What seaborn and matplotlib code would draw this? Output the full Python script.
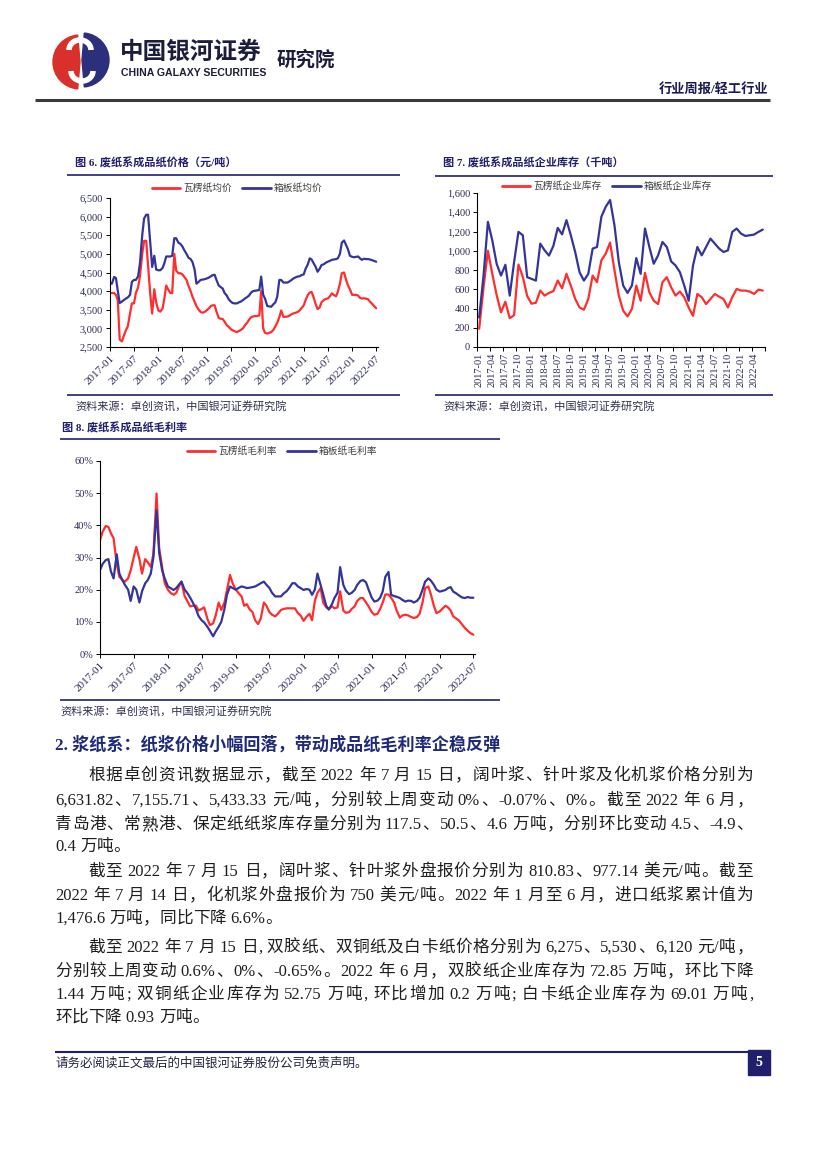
import re
import numpy as np
import pandas as pd
import matplotlib
matplotlib.use('Agg')
import matplotlib.pyplot as plt
import matplotlib.font_manager as fm
from matplotlib.lines import Line2D
from matplotlib.patches import Rectangle, Wedge, Arc
from matplotlib.ticker import FuncFormatter
import seaborn as sns

# 半月频日期（图6、图8共用）
half_month = pd.date_range('2017-01-01', '2022-07-01', freq='SMS')

# 图6 废纸系成品纸价格（元/吨）
corrugated_price = [
    3950, 3950, 3950, 3900, 3750, 2700, 2650, 2800, 2950, 3050,
    3400, 3670, 3670, 3950, 4100, 4400, 5000, 5350, 5350, 4700,
    3900, 3400, 4050, 3700, 3480, 3450, 3530, 3800, 4150, 4050,
    3950, 3950, 5000, 4550, 4480, 4480, 4450, 4380, 4300, 4150,
    4000, 3850, 3720, 3600, 3500, 3440, 3420, 3440, 3490, 3530,
    3600, 3620, 3620, 3450, 3280, 3260, 3250, 3180, 3080, 3040,
    2980, 2950, 2920, 2900, 2930, 2960, 3000, 3080, 3150, 3230,
    3300, 3320, 3330, 3330, 3350, 4000, 3000, 2880, 2860, 2880,
    2900, 2950, 3050, 3150, 3300, 3480, 3310, 3310, 3320, 3340,
    3380, 3400, 3420, 3440, 3480, 3540, 3620, 3760, 3900, 3960,
    3980, 3850, 3650, 3520, 3560, 3700, 3760, 3790, 3800, 3850,
    3940, 3900, 3860, 3980, 4200, 4480, 4500, 4320, 4150, 4050,
    3900, 3900, 3900, 3880, 3820, 3800, 3810, 3800, 3780, 3720,
    3660, 3600, 3540]
boxboard_price = [
    4200, 4200, 4380, 4350, 4000, 3680, 3720, 3760, 3800, 3830,
    3900, 4250, 4300, 4300, 4400, 4750, 5500, 5950, 6050, 6050,
    5300, 4650, 4950, 4580, 4560, 4560, 4620, 4750, 4930, 4930,
    4930, 4950, 5420, 5420, 5300, 5270, 5200, 5100, 5000, 4900,
    4860, 4780, 4580, 4200, 4250, 4300, 4310, 4320, 4340, 4360,
    4400, 4430, 4440, 4300, 4150, 4110, 4070, 3950, 3880, 3780,
    3720, 3680, 3670, 3670, 3700, 3720, 3760, 3800, 3840, 3880,
    3960, 4000, 4010, 4020, 4030, 4390, 3900, 3800, 3600, 3590,
    3580, 3640, 3700, 3850, 4300, 4300, 4230, 4230, 4230, 4260,
    4300, 4340, 4370, 4390, 4400, 4430, 4450, 4600, 4720, 4880,
    4850, 4760, 4650, 4520, 4600, 4700, 4720, 4760, 4790, 4810,
    4840, 4850, 4860, 4880, 5000, 5300, 5360, 5250, 5120, 4950,
    4920, 4910, 4920, 4930, 4880, 4840, 4870, 4860, 4860, 4850,
    4830, 4810, 4790]

# 图7 废纸系成品纸企业库存（千吨），月度
stock_month = pd.date_range('2017-01-01', periods=66, freq='MS')
corrugated_stock = [
    190, 620, 1000, 760, 540, 360, 470, 300, 330, 857,
    730, 530, 450, 460, 586, 534, 562, 580, 690, 610,
    760, 638, 500, 411, 387, 498, 742, 673, 900, 970,
    1085, 800, 534, 377, 318, 394, 638, 481, 770, 568,
    481, 446, 673, 725, 620, 534, 576, 517, 411, 324,
    551, 517, 446, 498, 551, 523, 498, 411, 517, 603,
    586, 586, 576, 551, 596, 586]
boxboard_stock = [
    307, 742, 1300, 1109, 865, 742, 854, 534, 882, 1196,
    1161, 725, 708, 690, 1074, 1004, 950, 1050, 1237, 1170,
    1318, 1161, 987, 777, 690, 760, 1022, 1039, 1353, 1457,
    1527, 1266, 882, 638, 562, 638, 924, 760, 1231, 1039,
    865, 952, 1091, 1039, 889, 847, 777, 638, 481, 847,
    1039, 952, 1039, 1126, 1074, 1022, 987, 1004, 1196, 1231,
    1178, 1154, 1161, 1168, 1196, 1220]

# 图8 废纸系成品纸毛利率（%）
corrugated_margin = [
    35.4, 38, 39.8, 39.5, 37.5, 36, 28, 24, 23, 22.5,
    23.5, 26, 30, 33.3, 29.5, 25, 29.5, 28.5, 27.1, 31,
    49.9, 33, 27, 22, 20, 19, 18.4, 19, 21, 22.5,
    18, 16.5, 14.8, 15, 15, 13.5, 14, 14.5, 11, 9,
    9.5, 12, 16, 13.7, 16, 20, 24.6, 22, 20, 19,
    17.9, 15, 15.5, 14, 13, 10.5, 9.3, 11, 16, 15,
    13, 12.2, 11.7, 12.5, 13.7, 14, 14.2, 14.2, 14.2, 14.2,
    12.7, 12, 10.3, 11.5, 12.5, 10.5, 16.5, 19, 20.5, 16,
    14.5, 14, 14.8, 14.2, 14.5, 19.5, 13.5, 12.8, 13, 14,
    14.8, 16.5, 17.4, 17.4, 16, 14.8, 13, 12.2, 12.5, 14,
    16, 18.5, 18.5, 17.5, 16, 13.5, 11.3, 12, 12.2, 12,
    11.5, 11.2, 11.5, 12.5, 16, 20.5, 21, 18.5, 15, 12.7,
    13.2, 14, 15, 14.5, 13.5, 11.7, 11, 10.4, 9.2, 8.2,
    7.2, 6.5, 6]
boxboard_margin = [
    26.1, 28, 29.2, 29.5, 25.6, 23.5, 31, 25, 23, 21.5,
    20, 16.5, 21, 20, 16, 19.5, 22, 23, 25, 30,
    44.7, 31.5, 26, 23.5, 21, 20.5, 19.9, 20.5, 21.5, 22.5,
    20, 19, 17.5, 16, 14, 11.8, 10.5, 9.8, 8.5, 7.2,
    5.5, 7, 8.5, 10, 14, 18.5, 21, 20.5, 20, 20.5,
    21, 20.8, 20.5, 20.6, 20.8, 21, 21.5, 22, 22.5, 21.5,
    20.5, 19, 17.9, 17.9, 17.9, 18.8, 19.5, 20.5, 22, 22,
    21, 20.5, 19.9, 20.2, 20, 18.4, 20, 25, 21.5, 18.5,
    15, 13.8, 15.5, 17.5, 19, 27, 21.5, 19.7, 18.6, 19,
    19.9, 21.5, 22.7, 23, 22.3, 20, 17.5, 16.3, 16.6, 17.5,
    19.5, 24, 25.5, 18.4, 18, 17.8, 17.4, 16.8, 16.3, 16.6,
    16.5, 16, 16.5, 17.5, 20, 22.5, 23.5, 22.8, 21.5, 20,
    19.4, 19.6, 19.9, 20.5, 20.8, 19.4, 18.8, 18.2, 17.6, 17.4,
    17.7, 17.5, 17.5]

price_names = ['瓦楞纸均价', '箱板纸均价']
stock_names = ['瓦楞纸企业库存', '箱板纸企业库存']
margin_names = ['瓦楞纸毛利率', '箱板纸毛利率']
half_year_ticks = pd.date_range('2017-01-01', '2022-07-01', freq='6MS')

source_text = '资料来源：卓创资讯，中国银河证券研究院'
# (x, y, 文本, 是否两端对齐)
body_lines = [
    (88, 776, '根据卓创资讯数据显示，截至 2022 年 7 月 15 日，阔叶浆、针叶浆及化机浆价格分别为', True),
    (55, 801, '6,631.82、7,155.71、5,433.33 元/吨，分别较上周变动 0%、-0.07%、0%。截至 2022 年 6 月，', True),
    (55, 825, '青岛港、常熟港、保定纸纸浆库存量分别为 117.5、50.5、4.6 万吨，分别环比变动 4.5、-4.9、', True),
    (55, 847, '0.4 万吨。', False),
    (88, 872, '截至 2022 年 7 月 15 日，阔叶浆、针叶浆外盘报价分别为 810.83、977.14 美元/吨。截至', True),
    (55, 896, '2022 年 7 月 14 日，化机浆外盘报价为 750 美元/吨。2022 年 1 月至 6 月，进口纸浆累计值为', True),
    (55, 919, '1,476.6 万吨，同比下降 6.6%。', False),
    (88, 948, '截至 2022 年 7 月 15 日, 双胶纸、双铜纸及白卡纸价格分别为 6,275、5,530、6,120 元/吨，', True),
    (55, 972, '分别较上周变动 0.6%、0%、-0.65%。2022 年 6 月，双胶纸企业库存为 72.85 万吨，环比下降', True),
    (55, 995, '1.44 万吨; 双铜纸企业库存为 52.75 万吨, 环比增加 0.2 万吨; 白卡纸企业库存为 69.01 万吨,', True),
    (55, 1018, '环比下降 0.93 万吨。', False),
]

RED = '#ff2d2d'
BLUE = '#34349a'
NAVY = '#1f1f6e'
W, H = 827, 1169
BODY_SIZE = 12
RIGHT_MARGIN = 753

sns.set_theme(style='white')
plt.rcParams['font.family'] = ['Liberation Serif', 'Noto Sans CJK SC']
plt.rcParams['axes.unicode_minus'] = False
installed = {f.name for f in fm.fontManager.ttflist}
narrow = 'Liberation Sans Narrow' if 'Liberation Sans Narrow' in installed else 'Liberation Sans'

fig = plt.figure(figsize=(W / 100, H / 100), dpi=100)
bg = fig.add_axes([0, 0, 1, 1])
bg.set_xlim(0, W)
bg.set_ylim(H, 0)
bg.axis('off')
renderer = fig.canvas.get_renderer()


def px_axes(l, t, r, b):
    return fig.add_axes([l / W, 1 - b / H, (r - l) / W, (b - t) / H])


def style(ax, size):
    sns.despine(ax=ax)
    for s in ['left', 'bottom']:
        ax.spines[s].set_color('black')
        ax.spines[s].set_linewidth(0.8)
    ax.tick_params(which='both', bottom=True, left=True, direction='out', length=3,
                   width=0.7, color='black', labelsize=size, labelcolor='#2a2a55', pad=2)
    ax.set_xlabel('')
    ax.set_ylabel('')
    ax.set_facecolor('none')
    ax.grid(False)


def add_legend(ax, labels, cx, cy):
    handles = [Line2D([], [], color=RED, lw=2), Line2D([], [], color=BLUE, lw=2)]
    ax.legend(handles, labels, loc='center', bbox_to_anchor=(cx / W, 1 - cy / H),
              bbox_transform=fig.transFigure, ncol=2, frameon=False, handlelength=2.9,
              handletextpad=0.3, columnspacing=1.1, labelcolor='#404040',
              prop=fm.FontProperties(family='Noto Sans CJK SC', size=7))


def put(x, y, s, size, **kw):
    return bg.text(x, y, s, fontsize=size, va='center', **kw)


def hline(x0, x1, y, color=NAVY, lw=1.2):
    bg.plot([x0, x1], [y, y], color=color, lw=lw, solid_capstyle='butt')


def body_line(x0, y, s, justify):
    # 中文逐字、英文数字按词放置，两端对齐时把多余空间平均分到各字之间
    em = BODY_SIZE * 100 / 72
    parts = re.findall(r'[!-~]+|\s+|[^\s!-~]', s)
    items = []
    for p in parts:
        if p.isspace():
            items.append((None, em * 0.25))
            continue
        t = put(0, y, p, BODY_SIZE, color='#1e1e1e')
        w = t.get_window_extent(renderer).width if p.isascii() else em
        items.append((t, w))
    n_words = sum(1 for t, _ in items if t is not None)
    natural = sum(w for _, w in items)
    extra = (RIGHT_MARGIN - x0 - natural) / (n_words - 1) if justify else 0
    x = x0
    for t, w in items:
        if t is not None:
            t.set_x(x)
            x += extra
        x += w


# ---------- 页眉 ----------
bg.add_patch(Wedge((80, 62), 27, 95, 265, color='#d9302b'))
bg.add_patch(Wedge((82, 60), 27, -85, 85, color='#2b2f7c'))
bg.add_patch(Arc((80, 50), 22, 20, theta1=180, theta2=360, color='white', lw=4))
bg.add_patch(Arc((82, 71), 22, 20, theta1=0, theta2=180, color='white', lw=4))
put(120, 52, '中国银河证券', 17, fontweight='bold', color='#1c1c3c', family='Noto Sans CJK SC')
put(121, 73, 'CHINA GALAXY SECURITIES', 7.6, fontweight='bold', color='#1c1c3c', family=narrow)
put(277, 60, '研究院', 14, fontweight='bold', color='#1c1c3c', family='Noto Sans CJK SC')
put(768, 90, '行业周报/轻工行业', 9.5, fontweight='bold', color='#1a1a50', ha='right')
hline(35, 770, 100, color='#3a3a3a', lw=2.2)

# ---------- 图6 ----------
put(75, 163, '图 6. 废纸系成品纸价格（元/吨）', 8, fontweight='bold', color=NAVY)
hline(67, 400, 175)
hline(67, 400, 395)
put(75, 407, source_text, 8, color='#303050')

df6 = pd.DataFrame({'date': half_month, price_names[0]: corrugated_price,
                    price_names[1]: boxboard_price}).melt('date', var_name='series', value_name='value')
ax6 = px_axes(110, 198, 378, 347)
sns.lineplot(data=df6, x='date', y='value', hue='series', palette=[RED, BLUE],
             linewidth=1.6, legend=False, errorbar=None, ax=ax6)
style(ax6, 7.5)
ax6.set_ylim(2500, 6500)
ax6.set_yticks(range(2500, 6501, 500))
ax6.yaxis.set_major_formatter(FuncFormatter(lambda v, p: f'{v:,.0f}'))
ax6.set_xlim(pd.Timestamp('2017-01-01'), pd.Timestamp('2022-07-15'))
ax6.set_xticks(half_year_ticks)
ax6.set_xticklabels([d.strftime('%Y-%m') for d in half_year_ticks], rotation=45,
                    ha='right', rotation_mode='anchor', fontsize=8)
add_legend(ax6, price_names, 237, 188)

# ---------- 图7 ----------
put(443, 163, '图 7. 废纸系成品纸企业库存（千吨）', 8, fontweight='bold', color=NAVY)
hline(435, 773, 176)
hline(435, 773, 395)
put(443, 407, source_text, 8, color='#303050')

df7 = pd.DataFrame({'idx': np.arange(len(stock_month)), stock_names[0]: corrugated_stock,
                    stock_names[1]: boxboard_stock}).melt('idx', var_name='series', value_name='value')
ax7 = px_axes(477, 193, 765, 347)
sns.lineplot(data=df7, x='idx', y='value', hue='series', palette=[RED, BLUE],
             linewidth=1.6, legend=False, errorbar=None, ax=ax7)
style(ax7, 7.5)
ax7.set_ylim(0, 1600)
ax7.set_yticks(range(0, 1601, 200))
ax7.yaxis.set_major_formatter(FuncFormatter(lambda v, p: f'{v:,.0f}'))
ax7.set_xlim(-0.5, len(stock_month) - 0.5)
ax7.set_xticks(np.arange(0, len(stock_month), 3))
ax7.set_xticklabels([d.strftime('%Y-%m') for d in stock_month[::3]], rotation=90, fontsize=7.5)
ax7.set_xticks(np.arange(-0.5, len(stock_month), 3), minor=True)
ax7.tick_params(axis='x', which='major', length=0, pad=4)
add_legend(ax7, stock_names, 607, 186)

# ---------- 图8 ----------
put(62, 428, '图 8. 废纸系成品纸毛利率', 8, fontweight='bold', color=NAVY)
hline(60, 500, 439)
hline(60, 500, 700)
put(60, 712, source_text, 8, color='#303050')

df8 = pd.DataFrame({'date': half_month, margin_names[0]: corrugated_margin,
                    margin_names[1]: boxboard_margin}).melt('date', var_name='series', value_name='value')
ax8 = px_axes(100, 461, 475, 654)
sns.lineplot(data=df8, x='date', y='value', hue='series', palette=[RED, BLUE],
             linewidth=1.6, legend=False, errorbar=None, ax=ax8)
style(ax8, 7.5)
ax8.set_ylim(0, 60)
ax8.set_yticks(range(0, 61, 10))
ax8.yaxis.set_major_formatter(FuncFormatter(lambda v, p: f'{v:.0f}%'))
ax8.set_xlim(pd.Timestamp('2017-01-01'), pd.Timestamp('2022-07-10'))
ax8.set_xticks(half_year_ticks)
ax8.set_xticklabels([d.strftime('%Y-%m') for d in half_year_ticks], rotation=45,
                    ha='right', rotation_mode='anchor', fontsize=8)
add_legend(ax8, margin_names, 282, 451)

# ---------- 正文 ----------
put(55, 745, '2. 浆纸系：纸浆价格小幅回落，带动成品纸毛利率企稳反弹', 12.3,
    fontweight='bold', color='#1e2a78')
for x, y, s, just in body_lines:
    body_line(x, y, s, just)

# ---------- 页脚 ----------
hline(55, 770, 1052, lw=1.5)
put(55, 1064, '请务必阅读正文最后的中国银河证券股份公司免责声明。', 9, color='#222244')
bg.add_patch(Rectangle((748, 1050), 22, 25, color='#1f1f6e'))
put(759, 1063, '5', 10, color='white', fontweight='bold', ha='center')

fig.savefig('out.png', dpi=100)
